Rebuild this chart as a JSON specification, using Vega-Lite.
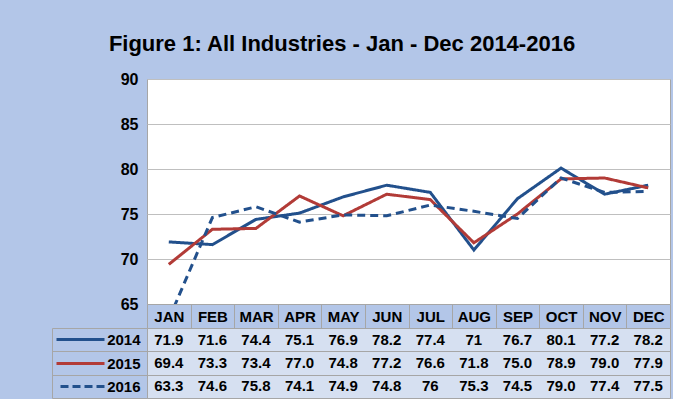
{
  "$schema": "https://vega.github.io/schema/vega-lite/v6.json",
  "background": "#b3c6e8",
  "padding": {"left": 51, "top": 32, "right": 3, "bottom": 0},
  "bounds": "flush",
  "spacing": 24,
  "config": {
    "font": "Liberation Sans, Arial, sans-serif"
  },
  "title": {
    "text": "Figure 1: All Industries - Jan - Dec 2014-2016",
    "fontSize": 22,
    "fontWeight": "bold",
    "color": "black",
    "anchor": "middle",
    "offset": 15,
    "dx": -19
  },
  "datasets": {
    "d": [
      {"month": "JAN", "year": "2014", "value": 71.9, "label": "71.9"},
      {"month": "FEB", "year": "2014", "value": 71.6, "label": "71.6"},
      {"month": "MAR", "year": "2014", "value": 74.4, "label": "74.4"},
      {"month": "APR", "year": "2014", "value": 75.1, "label": "75.1"},
      {"month": "MAY", "year": "2014", "value": 76.9, "label": "76.9"},
      {"month": "JUN", "year": "2014", "value": 78.2, "label": "78.2"},
      {"month": "JUL", "year": "2014", "value": 77.4, "label": "77.4"},
      {"month": "AUG", "year": "2014", "value": 71.0, "label": "71"},
      {"month": "SEP", "year": "2014", "value": 76.7, "label": "76.7"},
      {"month": "OCT", "year": "2014", "value": 80.1, "label": "80.1"},
      {"month": "NOV", "year": "2014", "value": 77.2, "label": "77.2"},
      {"month": "DEC", "year": "2014", "value": 78.2, "label": "78.2"},
      {"month": "JAN", "year": "2015", "value": 69.4, "label": "69.4"},
      {"month": "FEB", "year": "2015", "value": 73.3, "label": "73.3"},
      {"month": "MAR", "year": "2015", "value": 73.4, "label": "73.4"},
      {"month": "APR", "year": "2015", "value": 77.0, "label": "77.0"},
      {"month": "MAY", "year": "2015", "value": 74.8, "label": "74.8"},
      {"month": "JUN", "year": "2015", "value": 77.2, "label": "77.2"},
      {"month": "JUL", "year": "2015", "value": 76.6, "label": "76.6"},
      {"month": "AUG", "year": "2015", "value": 71.8, "label": "71.8"},
      {"month": "SEP", "year": "2015", "value": 75.0, "label": "75.0"},
      {"month": "OCT", "year": "2015", "value": 78.9, "label": "78.9"},
      {"month": "NOV", "year": "2015", "value": 79.0, "label": "79.0"},
      {"month": "DEC", "year": "2015", "value": 77.9, "label": "77.9"},
      {"month": "JAN", "year": "2016", "value": 63.3, "label": "63.3"},
      {"month": "FEB", "year": "2016", "value": 74.6, "label": "74.6"},
      {"month": "MAR", "year": "2016", "value": 75.8, "label": "75.8"},
      {"month": "APR", "year": "2016", "value": 74.1, "label": "74.1"},
      {"month": "MAY", "year": "2016", "value": 74.9, "label": "74.9"},
      {"month": "JUN", "year": "2016", "value": 74.8, "label": "74.8"},
      {"month": "JUL", "year": "2016", "value": 76.0, "label": "76"},
      {"month": "AUG", "year": "2016", "value": 75.3, "label": "75.3"},
      {"month": "SEP", "year": "2016", "value": 74.5, "label": "74.5"},
      {"month": "OCT", "year": "2016", "value": 79.0, "label": "79.0"},
      {"month": "NOV", "year": "2016", "value": 77.4, "label": "77.4"},
      {"month": "DEC", "year": "2016", "value": 77.5, "label": "77.5"}
    ]
  },
  "vconcat": [
    {
      "width": 523,
      "height": 225,
      "view": {"fill": "white", "stroke": "#a6a6a6"},
      "data": {"name": "d"},
      "mark": {"type": "line", "strokeWidth": 3, "clip": true},
      "encoding": {
        "x": {
          "field": "month", "type": "ordinal",
          "sort": ["JAN","FEB","MAR","APR","MAY","JUN","JUL","AUG","SEP","OCT","NOV","DEC"],
          "scale": {"type": "band", "paddingInner": 0, "paddingOuter": 0},
          "axis": {
            "title": null, "orient": "bottom", "labelAngle": 0,
            "labelFontSize": 15, "labelFontWeight": "bold", "labelColor": "black",
            "tickBand": "extent", "ticks": true, "tickSize": 24, "tickColor": "#a6a6a6",
            "domain": true, "domainColor": "#a6a6a6",
            "labelPadding": -12, "labelBaseline": "middle", "grid": false
          }
        },
        "y": {
          "field": "value", "type": "quantitative",
          "scale": {"domain": [65, 90], "nice": false, "zero": false},
          "axis": {
            "title": null, "values": [65, 70, 75, 80, 85, 90],
            "grid": true, "gridColor": "#bfbfbf", "ticks": false, "domain": false,
            "labelFontSize": 16, "labelFontWeight": "bold", "labelColor": "black", "labelPadding": 9
          }
        },
        "color": {
          "field": "year", "type": "nominal",
          "scale": {"domain": ["2014", "2015", "2016"], "range": ["#22508c", "#b23b37", "#22508c"]},
          "legend": null
        },
        "strokeDash": {
          "field": "year", "type": "nominal",
          "scale": {"domain": ["2014", "2015", "2016"], "range": [[1, 0], [1, 0], [8, 5]]},
          "legend": null
        }
      }
    },
    {
      "width": 523,
      "height": 70,
      "view": {"fill": "#d6e0f1", "stroke": "#a6a6a6"},
      "data": {"name": "d"},
      "layer": [
        {
          "mark": {"type": "text", "fontSize": 15, "fontWeight": "bold", "color": "black"},
          "encoding": {
            "x": {
              "field": "month", "type": "ordinal",
              "sort": ["JAN","FEB","MAR","APR","MAY","JUN","JUL","AUG","SEP","OCT","NOV","DEC"],
              "scale": {"type": "band", "paddingInner": 0, "paddingOuter": 0},
              "axis": {"title": null, "orient": "top", "labels": false, "ticks": false, "domain": false, "grid": true, "gridColor": "#a6a6a6", "tickBand": "extent"}
            },
            "y": {
              "field": "year", "type": "ordinal",
              "scale": {"type": "band", "paddingInner": 0, "paddingOuter": 0},
              "axis": {
                "title": null, "orient": "left", "grid": true, "gridColor": "#a6a6a6",
                "tickBand": "extent", "ticks": true, "tickSize": 95, "tickColor": "#a6a6a6",
                "domain": false, "labelPadding": -88,
                "labelFontSize": 15, "labelFontWeight": "bold", "labelColor": "black"
              }
            },
            "text": {"field": "label"}
          }
        },
        {
          "mark": {"type": "text", "opacity": 0},
          "encoding": {
            "x": {"field": "month", "type": "ordinal", "sort": ["JAN","FEB","MAR","APR","MAY","JUN","JUL","AUG","SEP","OCT","NOV","DEC"], "axis": null},
            "y": {
              "field": "year", "type": "ordinal",
              "axis": {
                "title": null, "orient": "left", "offset": 43, "labels": false, "domain": false, "grid": false,
                "ticks": true, "tickSize": 48, "tickWidth": 3, "tickCap": "butt",
                "tickColor": {"condition": {"test": "datum.value == '2015'", "value": "#b23b37"}, "value": "#22508c"},
                "tickDash": {"condition": {"test": "datum.value == '2016'", "value": [8, 4]}, "value": [1, 0]}
              }
            },
            "text": {"field": "label"}
          }
        },
        {
          "mark": {"type": "text", "opacity": 0},
          "encoding": {
            "x": {"field": "month", "type": "ordinal", "sort": ["JAN","FEB","MAR","APR","MAY","JUN","JUL","AUG","SEP","OCT","NOV","DEC"], "axis": null},
            "y": {
              "field": "year", "type": "ordinal",
              "axis": {
                "title": null, "orient": "left", "offset": 95, "labels": false, "ticks": false, "grid": false,
                "domain": true, "domainColor": "#a6a6a6"
              }
            },
            "text": {"field": "label"}
          }
        }
      ],
      "resolve": {"axis": {"y": "independent"}}
    }
  ]
}
